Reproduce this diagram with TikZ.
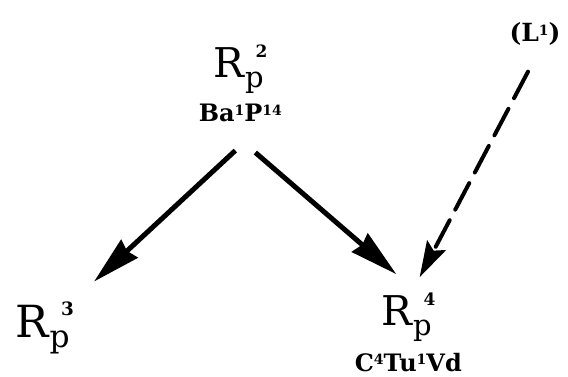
\documentclass[tikz,border=0pt]{standalone}
\usepackage{fontspec}
\setmainfont{DejaVu Serif}
\usepackage{tikz}
\usetikzlibrary{positioning, arrows.meta}

% R with subscript p and a raised index
\newcommand{\Rp}[1]{{\fontsize{41}{41}\selectfont R}\kern1pt\raisebox{-10pt}{\fontsize{29}{29}\selectfont p}\kern-8pt\raisebox{20pt}{\fontsize{17}{17}\selectfont\bfseries #1}}
% small raised digits in the gene labels
\newcommand{\sps}[1]{\raisebox{6.5pt}{\fontsize{14}{14}\selectfont #1}}

\begin{document}
\begin{tikzpicture}[
        x=1pt, y=-1pt,
        race/.style={inner sep=0pt, anchor=base west},
        genes/.style={inner sep=0pt, anchor=base, font=\fontsize{24}{24}\selectfont\bfseries},
        arr/.style={line width=5pt, -{Stealth[length=48pt, width=24pt, inset=3pt]}},
        dasharr/.style={line width=4pt, dash pattern=on 30pt off 12pt, line cap=round, -{Stealth[length=36pt, width=21pt, inset=6pt]}},
    ]
    \useasboundingbox (0,0) rectangle (568,377);

    % === RACES ===
    \node[race] (rp2) at (213, 78) {\Rp{2}};
    \node[race, scale=1.08] (rp3) at (15, 337) {\Rp{3}};
    \node[race] (rp4) at (381, 325) {\Rp{4}};

    % Gene labels
    \node[genes] (g2) at ([yshift=-44pt]rp2.base) {Ba\sps{1}P\sps{14}};
    \node[genes] (g4) at ([yshift=-46pt]rp4.base) {C\sps{4}Tu\sps{1}Vd};

    % Line
    \node[inner sep=0pt, font=\fontsize{25}{25}\selectfont\bfseries] (lin) at (535, 34) {(L\sps{1})};

    % === ARROWS ===
    \draw[arr] ([xshift=-5pt, yshift=-28pt]g2.south) -- ([xshift=20pt, yshift=20pt]rp3.north east);
    \draw[arr] ([xshift=15pt, yshift=-30pt]g2.south) -- ([xshift=-12pt, yshift=18pt]rp4.north);
    \draw[dasharr] ([xshift=-7pt, yshift=-26pt]lin.south) -- ([xshift=-16pt, yshift=15pt]rp4.north east);

\end{tikzpicture}
\end{document}
